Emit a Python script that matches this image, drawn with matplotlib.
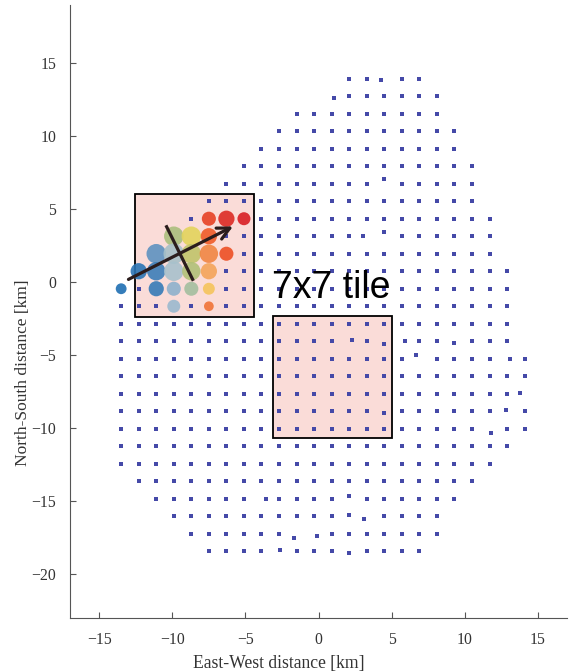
import numpy as np
import matplotlib
matplotlib.use("Agg")
import matplotlib.pyplot as plt
from matplotlib.patches import Rectangle
from matplotlib.colors import LinearSegmentedColormap

# station grid: 1.2 km spacing, column c -> x = -0.3 + 1.2 c, row m -> y = -0.45 + 1.2 m
spacing = 1.2
x0, y0 = -0.3, -0.45

# (row, first column, last column) of the array footprint
row_index = [12, 11, 10, 9, 8, 7, 6, 5, 4, 3, 2, 1, 0, -1, -2, -3, -4, -5,
             -6, -7, -8, -9, -10, -11, -12, -13, -14, -15]
col_first = [2, 1, -1, -2, -3, -4, -5, -6, -7, -8, -9, -10, -11, -11, -11, -11, -11, -11,
             -11, -11, -11, -11, -11, -10, -9, -8, -7, -6]
col_last = [6, 7, 7, 8, 8, 9, 9, 9, 10, 10, 10, 11, 11, 11, 11, 11, 12, 12,
            12, 12, 12, 11, 10, 9, 8, 7, 7, 6]

# stations that sit off their nominal grid node (col, row, dx km, dy km)
moved_col = [4, 1, 4, 3, 4, 2, 4, 5, 8, 6, 11, 12, 11, 4, 10, -3, 2, 3, 2, -1, 0, -2, 2]
moved_row = [12, 11, 6, 3, 3, -3, -3, -3, -3, -4, -4, -6, -7, -7, -8, -12, -12, -13, -13, -14, -14, -15, -15]
moved_dx = [-0.25, 0.14, 0.0, -0.25, 0.0, 0.16, 0.0, 0.2, 0.0, -0.2, 0.23, -0.3, -0.1, 0.0, 0.07,
            0.32, 0.0, -0.16, 0.0, -0.18, 0.18, 0.09, 0.0]
moved_dy = [-0.09, -0.11, 0.3, 0.0, 0.32, 0.11, -0.18, 0.0, -0.11, 0.28, 0.0, 0.02, 0.11, -0.09, -0.3,
            0.02, 0.18, -0.17, 0.11, -0.27, -0.18, 0.09, -0.11]

# recorded event: stations with signal (col, row), arrival-time colour value, amplitude
hit_col = [-11, -10, -9, -9, -9, -8, -8, -8, -8, -8, -7, -7, -7, -7,
           -6, -6, -6, -6, -6, -6, -5, -5, -4]
hit_row = [0, 1, 2, 1, 0, 3, 2, 1, 0, -1, 3, 2, 1, 0,
           4, 3, 2, 1, 0, -1, 4, 2, 4]
hit_time = [0.00, 0.04, 0.18, 0.10, 0.08, 0.45, 0.32, 0.31, 0.26, 0.28, 0.58, 0.52, 0.47, 0.38,
            0.92, 0.86, 0.78, 0.73, 0.65, 0.81, 0.97, 0.89, 1.00]
hit_amp = [10, 15, 18, 17, 14, 18, 19, 18, 13, 12, 18, 18, 17, 13,
           13, 15, 17, 15, 11, 9, 15, 13, 12]

xticks = [-15, -10, -5, 0, 5, 10, 15]
yticks = [15, 10, 5, 0, -5, -10, -15, -20]

# build station coordinates
moved = {(c, r): (dx, dy) for c, r, dx, dy in zip(moved_col, moved_row, moved_dx, moved_dy)}
hits = set(zip(hit_col, hit_row))
sx, sy = [], []
for r, c1, c2 in zip(row_index, col_first, col_last):
    for c in range(c1, c2 + 1):
        if (c, r) in hits:
            continue
        dx, dy = moved.get((c, r), (0.0, 0.0))
        sx.append(x0 + spacing * c + dx)
        sy.append(y0 + spacing * r + dy)

hx = x0 + spacing * np.array(hit_col)
hy = y0 + spacing * np.array(hit_row)
hs = (np.array(hit_amp) * 0.78) ** 2

cmap = LinearSegmentedColormap.from_list("arrival", [
    (0.00, "#1f6fb3"), (0.15, "#4b86bb"), (0.30, "#a8c1d2"), (0.42, "#a2bd86"),
    (0.52, "#c0c46a"), (0.58, "#e3d45c"), (0.66, "#f7c25c"), (0.74, "#f4a05a"),
    (0.80, "#f07a3a"), (0.88, "#ef5424"), (1.00, "#d81e24")])

fig = plt.figure(figsize=(5.72, 6.71), dpi=100)
ax = fig.add_axes([70 / 572, 1 - 617.7 / 671, 497 / 572, 612.7 / 671])

# highlighted tiles
ax.add_patch(Rectangle((-12.52, -2.38), 8.08, 8.42, facecolor="#fadcd8",
                       edgecolor="black", lw=1.3, zorder=1))
ax.add_patch(Rectangle((-3.08, -10.70), 8.08, 8.37, facecolor="#fadcd8",
                       edgecolor="black", lw=1.3, zorder=1))

ax.plot(sx, sy, "s", ms=2.5, color="#4549a8", mew=0, zorder=2)
ax.scatter(hx, hy, s=hs, c=hit_time, cmap=cmap, vmin=0, vmax=1,
           alpha=0.9, linewidths=0, zorder=3)

# propagation direction and wavefront
ax.annotate("", xy=(-5.85, 3.82), xytext=(-13.0, 0.19),
            arrowprops=dict(arrowstyle="->", lw=2.3, color="#2b1d1d",
                            mutation_scale=22, shrinkA=0, shrinkB=0), zorder=4)
ax.plot([-10.39, -8.61], [3.8, 0.19], color="#2b1d1d", lw=2.3, zorder=4)

ax.text(-3.2, -1.1, "7x7 tile", fontsize=27, family="Liberation Sans",
        ha="left", va="baseline", zorder=5)

ax.set_xlim(-17, 17)
ax.set_ylim(-23, 19)
ax.set_xticks(xticks)
ax.set_yticks(yticks)
for side in ["top", "right"]:
    ax.spines[side].set_visible(False)
for side in ["left", "bottom"]:
    ax.spines[side].set_color("#555555")
ax.tick_params(direction="in", length=4, color="#555555", labelsize=11.3,
               labelcolor="#333333")
ax.tick_params(axis="x", pad=10)
ax.tick_params(axis="y", pad=10)
for lab in ax.get_xticklabels() + ax.get_yticklabels():
    lab.set_family("Liberation Serif")

fig.text(279 / 572, 1 - 668 / 671, "East-West distance [km]", ha="center", va="baseline",
         fontsize=12.7, family="Liberation Serif", color="#333333")
fig.text(23 / 572, 1 - 373 / 671, "North-South distance [km]", ha="center", va="center",
         rotation=90, fontsize=12.5, family="Liberation Serif", color="#333333")

fig.savefig("out.png", dpi=100)
